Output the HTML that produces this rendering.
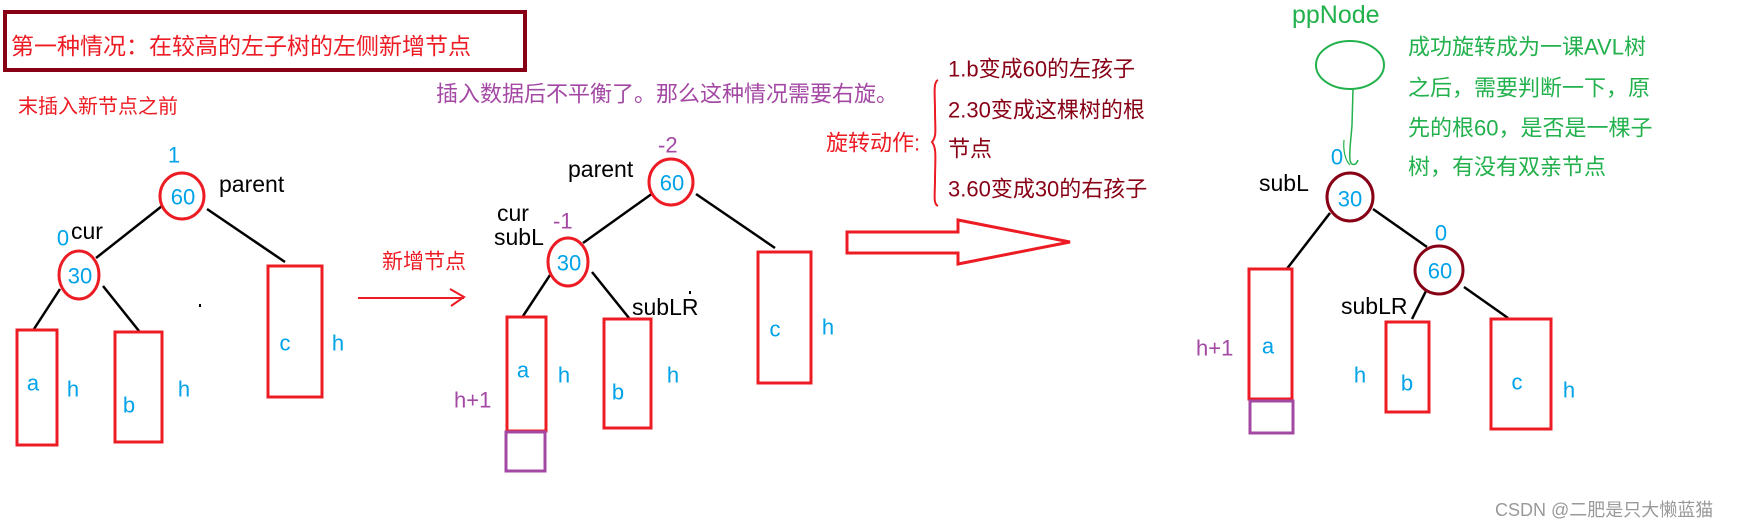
<!DOCTYPE html>
<html><head><meta charset="utf-8"><style>
html,body{margin:0;padding:0;background:#fff;width:1740px;height:529px;overflow:hidden}
svg text{font-family:"Liberation Sans","Noto Sans CJK SC",sans-serif}
</style></head><body>
<svg width="1740" height="529" xmlns="http://www.w3.org/2000/svg">
<g font-size="22" dominant-baseline="central">
<!-- title -->
<rect x="5" y="12" width="520" height="58" fill="none" stroke="#880015" stroke-width="4"/>
<text x="11" y="46" fill="#ed1c24" font-size="23">第一种情况：在较高的左子树的左侧新增节点</text>
<text x="18" y="107" fill="#ed1c24" font-size="20">末插入新节点之前</text>

<!-- tree 1 -->
<g stroke="#000" stroke-width="2.5">
<line x1="162" y1="206" x2="96" y2="258"/>
<line x1="207" y1="209" x2="285" y2="262"/>
<line x1="60" y1="289" x2="34" y2="329"/>
<line x1="103" y1="286" x2="139" y2="331"/>
</g>
<ellipse cx="182" cy="196" rx="22" ry="23" fill="none" stroke="#ed1c24" stroke-width="3"/>
<ellipse cx="79" cy="275" rx="20" ry="24" fill="none" stroke="#ed1c24" stroke-width="3"/>
<g fill="none" stroke="#ed1c24" stroke-width="3">
<rect x="17" y="330" width="40" height="115"/>
<rect x="115" y="332" width="47" height="110"/>
<rect x="268" y="266" width="54" height="131"/>
</g>
<g fill="#00a2e8" text-anchor="middle">
<text x="174" y="155">1</text>
<text x="183" y="197">60</text>
<text x="63" y="238">0</text>
<text x="80" y="276">30</text>
<text x="33" y="383">a</text>
<text x="73" y="389">h</text>
<text x="129" y="405">b</text>
<text x="184" y="389">h</text>
<text x="285" y="343">c</text>
<text x="338" y="343">h</text>
</g>
<g fill="#000" font-size="23">
<text x="219" y="184">parent</text>
<text x="71" y="231">cur</text>
</g>
<rect x="199" y="304" width="2" height="3" fill="#000"/>

<!-- middle arrow -->
<text x="382" y="262" fill="#ed1c24" font-size="21">新增节点</text>
<line x1="358" y1="298" x2="464" y2="298" stroke="#ed1c24" stroke-width="2"/>
<polyline points="450,289 464,297 451,306" fill="none" stroke="#ed1c24" stroke-width="2"/>

<text x="436" y="94" fill="#a349a4" font-size="22">插入数据后不平衡了。那么这种情况需要右旋。</text>

<!-- tree 2 -->
<g stroke="#000" stroke-width="2.5">
<line x1="653" y1="193" x2="583" y2="243"/>
<line x1="696" y1="194" x2="775" y2="248"/>
<line x1="550" y1="275" x2="523" y2="316"/>
<line x1="592" y1="272" x2="629" y2="318"/>
</g>
<ellipse cx="671" cy="182" rx="22" ry="23" fill="none" stroke="#ed1c24" stroke-width="3"/>
<ellipse cx="568" cy="262" rx="20" ry="24" fill="none" stroke="#ed1c24" stroke-width="3"/>
<g fill="none" stroke="#ed1c24" stroke-width="3">
<rect x="507" y="317" width="39" height="114"/>
<rect x="604" y="319" width="47" height="109"/>
<rect x="758" y="252" width="53" height="131"/>
</g>
<rect x="506" y="432" width="39" height="39" fill="none" stroke="#a349a4" stroke-width="3"/>
<g fill="#a349a4">
<text x="658" y="145">-2</text>
<text x="553" y="221">-1</text>
<text x="454" y="400">h+1</text>
</g>
<g fill="#00a2e8" text-anchor="middle">
<text x="672" y="183">60</text>
<text x="569" y="263">30</text>
<text x="523" y="370">a</text>
<text x="564" y="375">h</text>
<text x="618" y="392">b</text>
<text x="673" y="375">h</text>
<text x="775" y="329">c</text>
<text x="828" y="327">h</text>
</g>
<g fill="#000" font-size="23">
<text x="568" y="169">parent</text>
<text x="497" y="213">cur</text>
<text x="494" y="237">subL</text>
<text x="632" y="307">subLR</text>
</g>
<rect x="689" y="291" width="2" height="3" fill="#000"/>

<!-- rotation actions -->
<text x="826" y="143" fill="#ed1c24" font-size="22">旋转动作:</text>
<path d="M938,80 C933,82 935,95 935,110 C935,130 937,136 932,142 C937,148 935,160 935,180 C935,195 933,204 938,206" fill="none" stroke="#ed1c24" stroke-width="2"/>
<g fill="#880015" font-size="22">
<text x="948" y="69">1.b变成60的左孩子</text>
<text x="948" y="110">2.30变成这棵树的根</text>
<text x="948" y="149">节点</text>
<text x="948" y="189">3.60变成30的右孩子</text>
</g>
<polygon points="847,232 958,232 958,220 1070,242 958,264 958,253 847,253" fill="#fff" stroke="#ed1c24" stroke-width="3"/>

<!-- tree 3 -->
<text x="1292" y="15" fill="#22b14c" font-size="25">ppNode</text>
<ellipse cx="1350" cy="65" rx="34" ry="24" fill="none" stroke="#22b14c" stroke-width="2"/>
<path d="M1353,89 L1352,125 C1351,140 1349,150 1350,160 C1351,166 1356,166 1358,160" fill="none" stroke="#22b14c" stroke-width="1.5"/>
<path d="M1344,140 C1343,150 1345,160 1350,165" fill="none" stroke="#22b14c" stroke-width="1.2"/>
<g fill="#22b14c" font-size="22">
<text x="1408" y="47">成功旋转成为一课AVL树</text>
<text x="1408" y="88">之后，需要判断一下，原</text>
<text x="1408" y="128">先的根60，是否是一棵子</text>
<text x="1408" y="167">树，有没有双亲节点</text>
</g>
<g stroke="#000" stroke-width="2.5">
<line x1="1330" y1="213" x2="1286" y2="270"/>
<line x1="1373" y1="209" x2="1427" y2="247"/>
<line x1="1426" y1="291" x2="1412" y2="319"/>
<line x1="1464" y1="287" x2="1508" y2="318"/>
</g>
<ellipse cx="1350" cy="197" rx="23" ry="24" fill="none" stroke="#880015" stroke-width="3"/>
<ellipse cx="1439" cy="270" rx="24" ry="24" fill="none" stroke="#880015" stroke-width="3"/>
<g fill="none" stroke="#ed1c24" stroke-width="3">
<rect x="1249" y="269" width="43" height="130"/>
<rect x="1386" y="322" width="43" height="90"/>
<rect x="1491" y="319" width="60" height="110"/>
</g>
<rect x="1250" y="401" width="43" height="32" fill="none" stroke="#a349a4" stroke-width="3"/>
<text x="1196" y="348" fill="#a349a4">h+1</text>
<g fill="#00a2e8" text-anchor="middle">
<text x="1337" y="157">0</text>
<text x="1350" y="199">30</text>
<text x="1441" y="233">0</text>
<text x="1440" y="271">60</text>
<text x="1268" y="346">a</text>
<text x="1360" y="375">h</text>
<text x="1407" y="383">b</text>
<text x="1517" y="382">c</text>
<text x="1569" y="390">h</text>
</g>
<g fill="#000" font-size="23">
<text x="1259" y="183">subL</text>
<text x="1341" y="306">subLR</text>
</g>
<text x="1495" y="510" fill="#999" font-size="18">CSDN @二肥是只大懒蓝猫</text>
</g>
</svg>
</body></html>
